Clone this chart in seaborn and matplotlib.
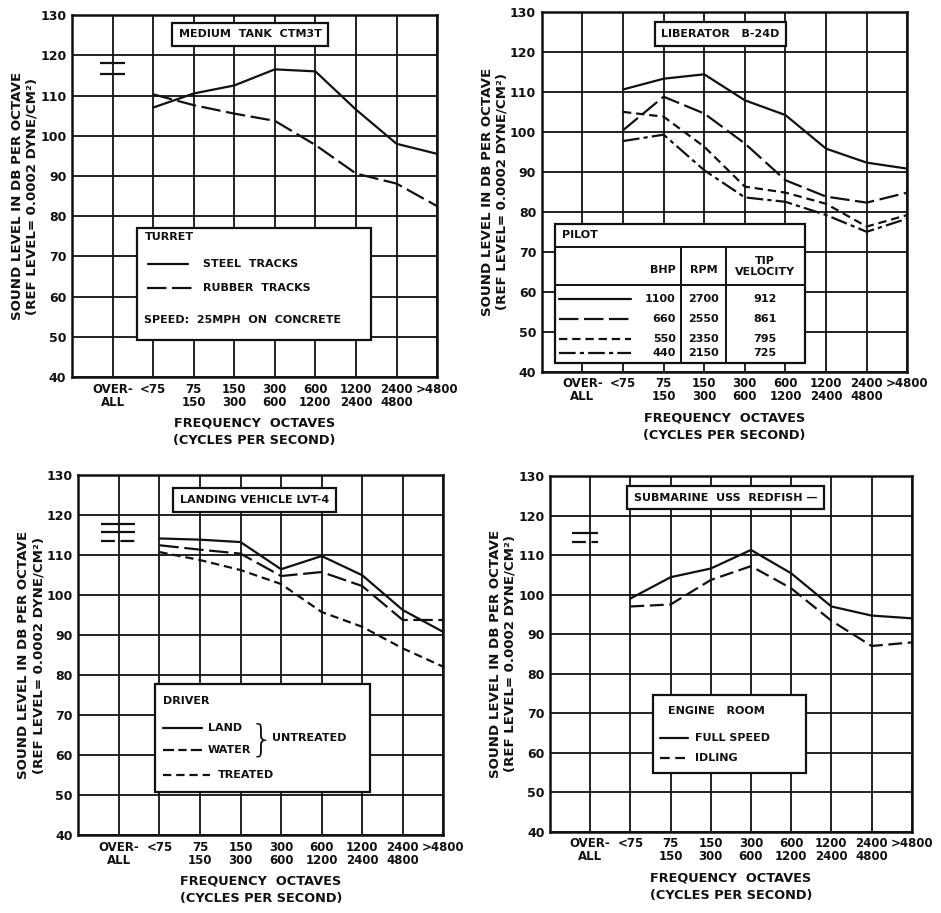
import numpy as np
import matplotlib
import matplotlib.pyplot as plt
import seaborn as sns
from matplotlib.patches import Rectangle

# Force headless mode
matplotlib.use("Agg")

# ------------------------------------------------------------------
# Data (dB re 0.0002 dyne/cm^2)
# ------------------------------------------------------------------
band_labels = ["<75", "75\n150", "150\n300", "300\n600", "600\n1200",
               "1200\n2400", "2400\n4800", ">4800"]
overall_label = "OVER-\nALL"
y_ticks = [40, 50, 60, 70, 80, 90, 100, 110, 120, 130]

# Medium tank, turret
tank_steel = [107, 110.5, 112.5, 116.5, 116, 106.5, 98, 95.5]
tank_rubber = [110.3, 107.6, 105.5, 103.7, 97.7, 90.6, 88.1, 82.5]
tank_overall = [118, 115.3]

# Liberator B-24D, pilot
b24_1100 = [110.6, 113.3, 114.4, 107.9, 104.2, 95.8, 92.3, 90.8]
b24_660 = [100.4, 108.8, 104.6, 97.1, 87.9, 83.8, 82.3, 84.8]
b24_550 = [105, 103.8, 96.3, 86.3, 84.8, 82, 76.3, 79.2]
b24_440 = [97.7, 99.3, 90.4, 83.6, 82.5, 79.2, 75, 78.3]
b24_bhp = ["1100", "660", "550", "440"]
b24_rpm = ["2700", "2550", "2350", "2150"]
b24_tip = ["912", "861", "795", "725"]

# Landing vehicle LVT-4, driver
lvt_land = [114.2, 113.9, 113.3, 106.5, 109.8, 105, 96.3, 90.8]
lvt_water = [112.5, 111.4, 110.4, 104.8, 105.8, 102.3, 93.8, 93.8]
lvt_treated = [110.8, 108.8, 106.3, 102.8, 95.8, 92.1, 86.7, 82.1]
lvt_overall = [117.7, 115.8, 113.5]

# Submarine USS Redfish, engine room
sub_full = [99, 104.4, 106.6, 111.3, 105.4, 97, 94.7, 94]
sub_idle = [97, 97.5, 103.7, 107.2, 101.6, 93.4, 87, 87.9]
sub_overall = [115.7, 113.4]

# ------------------------------------------------------------------
sns.set_theme(style="white")
plt.rcParams["font.family"] = ["DejaVu Sans"]
plt.rcParams["font.weight"] = "bold"
plt.rcParams["lines.scale_dashes"] = False

INK = "#111111"
LW = 1.6
SOLID = "-"
LONG = (0, (14, 4))
MED = (0, (10, 4))
SHORT = (0, (6, 3.5))
DASHDOT = (0, (12, 3, 3, 3))

band_pos = np.arange(2, 2 + len(band_labels))

fig = plt.figure(figsize=(9.41, 9.13), dpi=100)
fig.patch.set_facecolor("white")


def setup_axes(rect, title, title_xy):
    ax = fig.add_axes(rect)
    ax.set_facecolor("white")
    ax.set_xlim(0, 9)
    ax.set_ylim(40, 130)
    ax.set_xticks(np.arange(0, 10))
    ax.set_xticklabels([""] + [overall_label] + band_labels,
                       fontsize=8.5, fontweight="bold", linespacing=1.0)
    ax.set_yticks(y_ticks)
    ax.set_yticklabels([str(v) for v in y_ticks], fontsize=9, fontweight="bold")
    ax.grid(True, color=INK, lw=1.3)
    ax.set_axisbelow(True)
    ax.tick_params(length=0, pad=4, colors=INK)
    for s in ax.spines.values():
        s.set_color(INK)
        s.set_linewidth(1.8)
    ax.set_xlabel("FREQUENCY  OCTAVES\n(CYCLES PER SECOND)", fontsize=9.3,
                  fontweight="bold", labelpad=6, linespacing=1.45, color=INK)
    ax.set_ylabel("SOUND LEVEL IN DB PER OCTAVE\n(REF LEVEL= 0.0002 DYNE/CM²)",
                  fontsize=9.6, fontweight="bold", labelpad=1, linespacing=1.2, color=INK)
    ax.text(*title_xy, title, ha="center", va="center", fontsize=8, fontweight="bold",
            color=INK, zorder=6,
            bbox=dict(boxstyle="square,pad=0.6", fc="white", ec=INK, lw=1.6))
    return ax


def series(ax, values, style):
    sns.lineplot(x=band_pos, y=values, ax=ax, color=INK, lw=LW, linestyle=style, zorder=3)


def overall(ax, values, styles, x0=0.6, x1=1.3):
    ax.hlines(values, x0, x1, colors=INK, lw=LW, linestyles=styles, zorder=3)


def box(ax, x0, y0, x1, y1):
    ax.add_patch(Rectangle((x0, y0), x1 - x0, y1 - y0, fc="white", ec=INK,
                           lw=1.6, zorder=4))


def sample(ax, x0, x1, y, style):
    ax.plot([x0, x1], [y, y], color=INK, lw=LW, linestyle=style, zorder=5)


def label(ax, x, y, s, **kw):
    kw.setdefault("ha", "left")
    ax.text(x, y, s, va="center", fontsize=8, fontweight="bold", color=INK, zorder=5, **kw)


# ---------------- Panel 1: medium tank ----------------
ax1 = setup_axes([0.0765, 0.587, 0.388, 0.3965], "MEDIUM  TANK  CTM3T", (4.39, 125.2))
series(ax1, tank_steel, SOLID)
series(ax1, tank_rubber, LONG)
overall(ax1, tank_overall, [SOLID, SOLID], 0.7, 1.3)
box(ax1, 1.6, 49.3, 7.37, 77.1)
label(ax1, 1.8, 74.9, "TURRET")
sample(ax1, 1.88, 2.87, 68.2, SOLID)
label(ax1, 3.23, 68.2, "STEEL  TRACKS")
sample(ax1, 1.85, 2.98, 62.2, LONG)
label(ax1, 3.23, 62.2, "RUBBER  TRACKS")
label(ax1, 1.78, 54.3, "SPEED:  25MPH  ON  CONCRETE")

# ---------------- Panel 2: Liberator B-24D ----------------
ax2 = setup_axes([0.5757, 0.5929, 0.3885, 0.394], "LIBERATOR   B-24D", (4.4, 124.5))
series(ax2, b24_1100, SOLID)
series(ax2, b24_660, LONG)
series(ax2, b24_550, SHORT)
series(ax2, b24_440, DASHDOT)
box(ax2, 0.33, 42.25, 6.48, 76.9)
for yy in (71.25, 61.7):
    ax2.plot([0.33, 6.48], [yy, yy], color=INK, lw=1.4, zorder=5)
for xx in (3.44, 4.53):
    ax2.plot([xx, xx], [42.25, 71.25], color=INK, lw=1.4, zorder=5)
label(ax2, 0.5, 74.1, "PILOT")
label(ax2, 3.3, 65.4, "BHP", ha="right")
label(ax2, 3.98, 65.4, "RPM", ha="center")
ax2.text(5.5, 66.4, "TIP\nVELOCITY", ha="center", va="center", fontsize=8,
         fontweight="bold", color=INK, zorder=5, linespacing=1.1)
row_y = [58.3, 53.1, 48.3, 44.6]
row_style = [SOLID, LONG, SHORT, DASHDOT]
for yy, st, bhp, rpm, tip in zip(row_y, row_style, b24_bhp, b24_rpm, b24_tip):
    sample(ax2, 0.42, 2.2, yy, st)
    label(ax2, 3.3, yy, bhp, ha="right")
    label(ax2, 3.98, yy, rpm, ha="center")
    label(ax2, 5.5, yy, tip, ha="center")

# ---------------- Panel 3: LVT-4 ----------------
ax3 = setup_axes([0.0832, 0.0854, 0.3879, 0.394], "LANDING VEHICLE LVT-4", (4.35, 123.85))
series(ax3, lvt_land, SOLID)
series(ax3, lvt_water, LONG)
series(ax3, lvt_treated, SHORT)
overall(ax3, lvt_overall, [SOLID, SOLID, MED], 0.55, 1.4)
box(ax3, 1.89, 50.8, 7.19, 77.75)
label(ax3, 2.1, 73.6, "DRIVER")
sample(ax3, 2.1, 3.04, 66.7, SOLID)
label(ax3, 3.2, 66.7, "LAND")
sample(ax3, 2.1, 3.04, 61.25, (0, (8, 3, 6, 3)))
label(ax3, 3.2, 61.25, "WATER")
ax3.text(4.52, 63.8, "}", ha="center", va="center", fontsize=27, fontweight="light",
         color=INK, zorder=5, family=["DejaVu Sans"])
label(ax3, 4.77, 64.3, "UNTREATED")
sample(ax3, 2.1, 3.25, 55, SHORT)
label(ax3, 3.45, 55, "TREATED")

# ---------------- Panel 4: submarine ----------------
ax4 = setup_axes([0.5845, 0.089, 0.3844, 0.3896], "SUBMARINE  USS  REDFISH —", (4.37, 124.55))
series(ax4, sub_full, SOLID)
series(ax4, sub_idle, MED)
overall(ax4, sub_overall, [SOLID, MED], 0.55, 1.2)
box(ax4, 2.57, 54.8, 6.37, 74.6)
label(ax4, 2.94, 70.6, "ENGINE   ROOM")
sample(ax4, 2.74, 3.44, 63.6, SOLID)
label(ax4, 3.6, 63.6, "FULL SPEED")
sample(ax4, 2.74, 3.44, 58.6, (0, (7, 4)))
label(ax4, 3.6, 58.6, "IDLING")

plt.savefig("out.png", dpi=100, facecolor="white")
plt.close()
